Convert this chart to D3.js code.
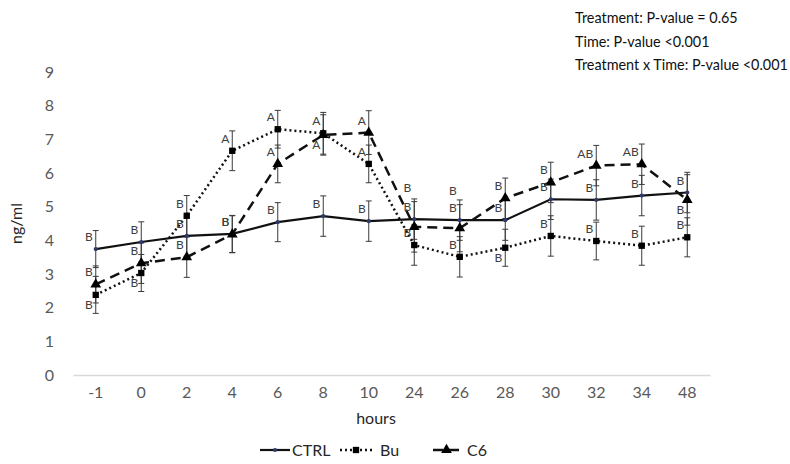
<!DOCTYPE html>
<html>
<head>
<meta charset="utf-8">
<script src="https://cdn.jsdelivr.net/npm/d3@7"></script>
<style>
    body { margin: 0; background: #fff; }
    text { font-family: Lato, "Open Sans", sans-serif; }
</style>
</head>
<body>
<div class="chart"></div>
<script>
const width = 790
const height = 464

// data
const hours = ['-1', '0', '2', '4', '6', '8', '10', '24', '26', '28', '30', '32', '34', '48']
const yTicks = [0, 1, 2, 3, 4, 5, 6, 7, 8, 9]

const ctrl    = [3.74, 3.95, 4.13, 4.19, 4.54, 4.72, 4.57, 4.63, 4.60, 4.60, 5.22, 5.20, 5.33, 5.42]
const ctrlErr = [0.55, 0.60, 0.60, 0.55, 0.58, 0.60, 0.60, 0.60, 0.60, 0.60, 0.60, 0.60, 0.60, 0.60]
const bu      = [2.38, 3.03, 4.73, 6.66, 7.30, 7.18, 6.27, 3.86, 3.51, 3.78, 4.13, 3.98, 3.84, 4.09]
const buErr   = [0.55, 0.55, 0.60, 0.59, 0.56, 0.62, 0.56, 0.60, 0.60, 0.55, 0.60, 0.56, 0.58, 0.58]
const c6      = [2.69, 3.32, 3.50, 4.18, 6.27, 7.13, 7.20, 4.40, 4.36, 5.25, 5.72, 6.22, 6.26, 5.20]
const c6Err   = [0.55, 0.60, 0.60, 0.55, 0.56, 0.60, 0.65, 0.75, 0.70, 0.60, 0.60, 0.60, 0.60, 0.75]

const ctrlLetters = ['B', 'B', 'B', 'B', 'B', 'B', 'B', 'B', 'B', 'B', 'B', 'B', 'B', 'B']
const buLetters   = ['B', 'B', 'B', 'A', 'A', 'A', 'A', 'B', 'B', 'B', 'B', 'B', 'B', 'B']
const c6Letters   = ['B', 'B', 'B', 'B', 'A', 'A', 'A', 'B', 'B', 'B', 'B', 'AB', 'AB', 'B']
// where a letter sits off its default spot (just above the point)
const buBelow = [0, 1, 9]
const c6Below = [5, 13]
const c6High  = [7, 8]

const stats = [
    'Treatment: P-value = 0.65',
    'Time: P-value <0.001',
    'Treatment x Time: P-value <0.001'
]

const series = [
    {name: 'CTRL', values: ctrl, err: ctrlErr, letters: ctrlLetters, below: [], high: [], dash: null, width: 2.2, marker: 'dot'},
    {name: 'Bu', values: bu, err: buErr, letters: buLetters, below: buBelow, high: [], dash: '2,3', width: 2.5, marker: 'square'},
    {name: 'C6', values: c6, err: c6Err, letters: c6Letters, below: c6Below, high: c6High, dash: '10,6', width: 2.5, marker: 'triangle'}
]

const margin = {top: 72, right: 80, bottom: 89, left: 73}

const svg = d3.select('.chart')
    .append('svg')
        .attr('width', width)
        .attr('height', height)

const x = d3.scaleBand()
    .domain(hours)
    .range([margin.left, width - margin.right])

const y = d3.scaleLinear()
    .domain([0, 9])
    .range([height - margin.bottom, margin.top])

const cx = h => x(h) + x.bandwidth() / 2

// axes
const yAxis = svg.append('g')
    .attr('transform', `translate(${margin.left},0)`)
    .call(d3.axisLeft(y).tickValues(yTicks).tickSize(0).tickPadding(19))
yAxis.select('.domain').remove()
yAxis.selectAll('text')
    .attr('fill', '#595959')
    .style('font-size', '16px')

const xAxis = svg.append('g')
    .attr('transform', `translate(0,${y(0)})`)
    .call(d3.axisBottom(x).tickSize(0).tickPadding(12))
xAxis.select('.domain').attr('stroke', '#d9d9d9').attr('stroke-width', 1.3)
xAxis.selectAll('text')
    .attr('fill', '#595959')
    .style('font-size', '16px')

svg.append('text')
    .attr('x', 376)
    .attr('y', 424)
    .attr('text-anchor', 'middle')
    .attr('fill', '#262626')
    .style('font-size', '16px')
    .text('hours')

svg.append('text')
    .attr('transform', `translate(22,${y(4.5)}) rotate(-90)`)
    .attr('text-anchor', 'middle')
    .attr('fill', '#262626')
    .style('font-size', '16px')
    .text('ng/ml')

// error bars
series.forEach(s => {
    const g = svg.append('g').attr('stroke', '#3a3a3a').attr('stroke-width', 1)
    hours.forEach((h, i) => {
        const x0 = cx(h)
        const y1 = y(s.values[i] + s.err[i])
        const y2 = y(s.values[i] - s.err[i])
        g.append('line').attr('x1', x0).attr('x2', x0).attr('y1', y1).attr('y2', y2)
        g.append('line').attr('x1', x0 - 3).attr('x2', x0 + 3).attr('y1', y1).attr('y2', y1)
        g.append('line').attr('x1', x0 - 3).attr('x2', x0 + 3).attr('y1', y2).attr('y2', y2)
    })
})

// lines
const line = d3.line()
    .x((d, i) => cx(hours[i]))
    .y(d => y(d))

series.forEach(s => {
    svg.append('path')
        .datum(s.values)
        .attr('d', line)
        .attr('fill', 'none')
        .attr('stroke', '#111')
        .attr('stroke-width', s.width)
        .attr('stroke-dasharray', s.dash)
})

// markers
const symbols = {
    dot: d3.symbol(d3.symbolCircle, 14),
    square: d3.symbol(d3.symbolSquare, 40),
    triangle: d3.symbol(d3.symbolTriangle, 50)
}
series.forEach(s => {
    svg.append('g')
        .selectAll('path')
        .data(s.values)
        .join('path')
            .attr('d', symbols[s.marker])
            .attr('transform', (d, i) => `translate(${cx(hours[i])},${y(d)})`)
            .attr('fill', s.marker === 'dot' ? '#2d3a6b' : '#000')
})

// significance letters
const letterY = (s, i) => {
    if (s.below.includes(i)) return y(s.values[i]) + 14
    if (s.high.includes(i)) return y(s.values[i] + s.err[i]) - 10
    return y(s.values[i]) - 8
}
series.forEach(s => {
    svg.append('g')
        .selectAll('text')
        .data(s.letters)
        .join('text')
            .attr('x', (d, i) => cx(hours[i]) - 3)
            .attr('y', (d, i) => letterY(s, i))
            .attr('text-anchor', 'end')
            .attr('fill', '#404040')
            .style('font-size', '12px')
            .text(d => d)
})

// p-value notes
svg.append('g')
    .selectAll('text')
    .data(stats)
    .join('text')
        .attr('x', 575)
        .attr('y', (d, i) => 23 + i * 23.5)
        .attr('fill', '#111')
        .style('font-size', '14.4px')
        .text(d => d)

// legend
const legend = svg.append('g').attr('transform', 'translate(0,450)')
const legendPos = [
    {x1: 260, x2: 290, tx: 292},
    {x1: 340, x2: 372, tx: 380},
    {x1: 433, x2: 460, tx: 467}
]
series.forEach((s, i) => {
    const p = legendPos[i]
    legend.append('line')
        .attr('x1', p.x1).attr('x2', p.x2)
        .attr('stroke', '#111')
        .attr('stroke-width', s.width)
        .attr('stroke-dasharray', s.dash)
    legend.append('path')
        .attr('d', symbols[s.marker])
        .attr('transform', `translate(${(p.x1 + p.x2) / 2},0)`)
        .attr('fill', s.marker === 'dot' ? '#2d3a6b' : '#000')
    legend.append('text')
        .attr('x', p.tx)
        .attr('y', 6)
        .attr('fill', '#262626')
        .style('font-size', '16px')
        .text(s.name)
})
</script>
</body>
</html>
